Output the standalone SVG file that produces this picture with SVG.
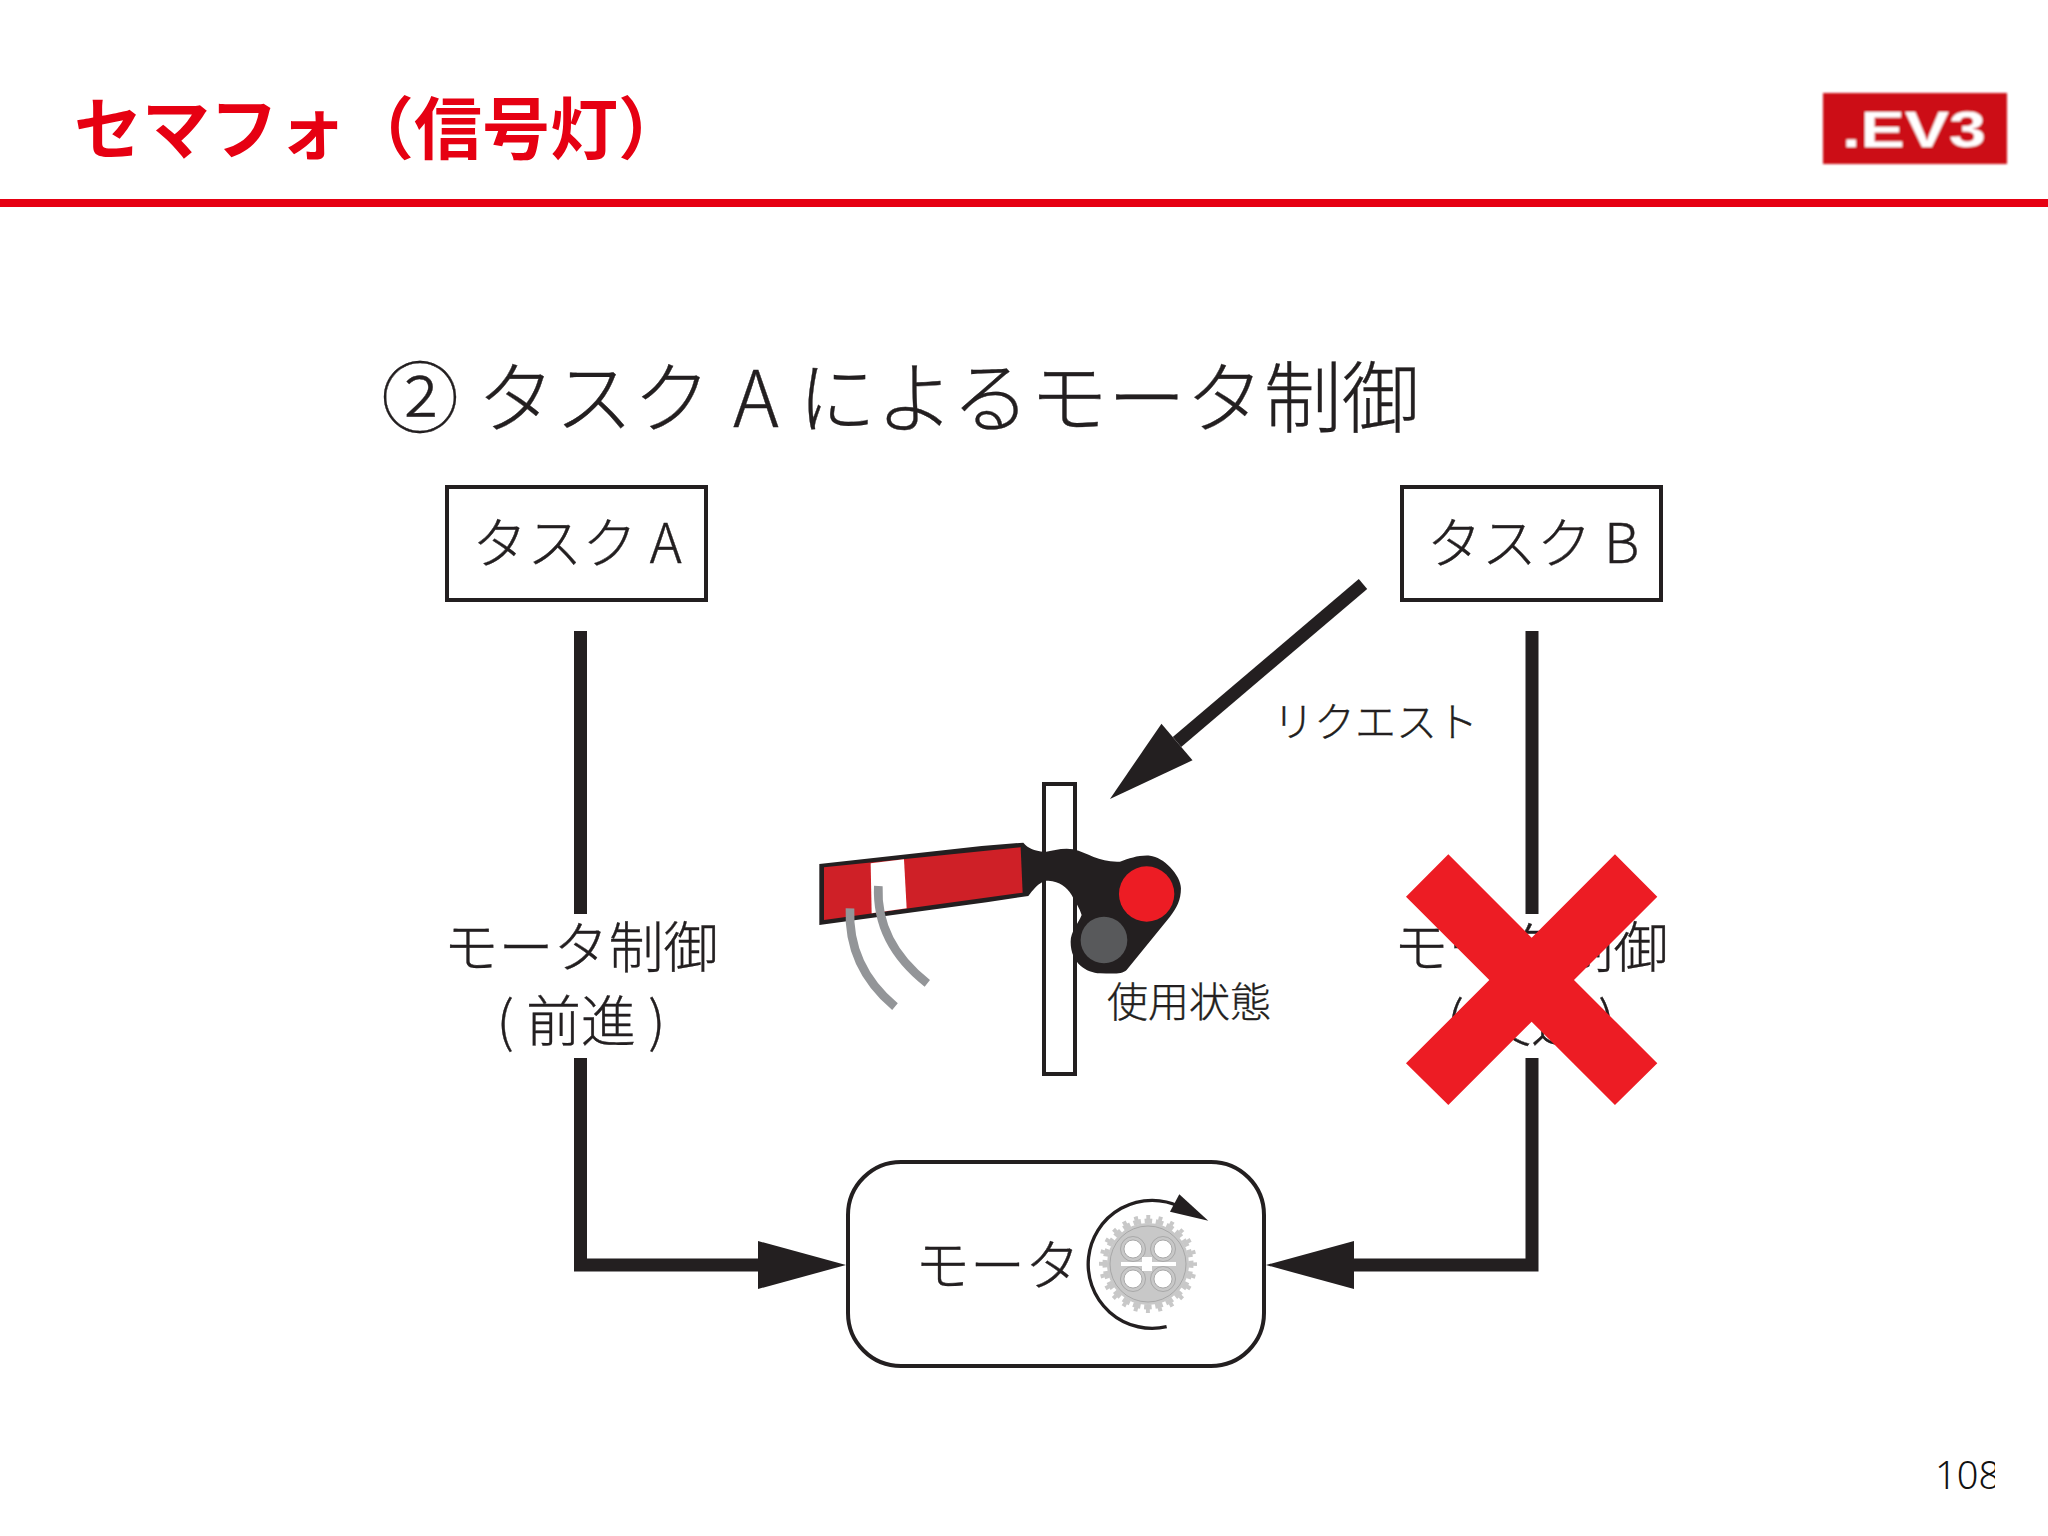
<svg xmlns="http://www.w3.org/2000/svg" width="2048" height="1536" viewBox="0 0 2048 1536">
<style>
text{font-family:"Noto Sans CJK JP","Noto Sans",sans-serif;font-weight:300;fill:#231f20;stroke:#231f20;stroke-width:.35}
.m{text-anchor:middle}
.box{fill:#fff;stroke:#231f20;stroke-width:4}
.wire{fill:none;stroke:#231f20;stroke-width:13;marker-end:url(#head)}
.plain{fill:none;stroke:#231f20;stroke-width:13}
.lbl55{font-size:55px}
.lbl41{font-size:41px}
.hole{fill:#fff;stroke:#9a9a9a;stroke-width:.8}
.ring{fill:#c8c8c8;stroke:#9a9a9a;stroke-width:.7}
</style>
<defs>
<marker id="head" markerUnits="userSpaceOnUse" markerWidth="90" markerHeight="48" refX="0" refY="24" orient="auto" overflow="visible"><path d="M0 0L88 24L0 48z" fill="#231f20"/></marker>
<clipPath id="pg"><rect x="1900" y="1440" width="95" height="70"/></clipPath>
<filter id="soft" x="-5%" y="-5%" width="110%" height="110%"><feGaussianBlur stdDeviation="0.9"/></filter>
</defs>
<rect width="2048" height="1536" fill="#fff"/>
<g id="header">
<text x="74" y="154" font-size="68" style="font-weight:700;fill:#e60012;stroke:none">セマフォ（信号灯）</text>
<rect x="0" y="199" width="2048" height="8" fill="#e60012"/>
<g filter="url(#soft)">
<rect x="1823" y="93" width="184" height="71" fill="#cc1016"/>
<text x="1842" y="147" font-size="50" textLength="144" lengthAdjust="spacingAndGlyphs" style="font-family:'Liberation Sans',sans-serif;font-weight:700;fill:#fff;stroke:none">.EV3</text>
</g>
</g>
<text id="heading" y="427" font-size="78"><tspan x="381">②</tspan><tspan x="477">タスク</tspan><tspan x="733">A</tspan><tspan x="798">によるモータ制御</tspan></text>

<g id="connectors">
<path class="plain" d="M580.5 631V914"/>
<path class="wire" d="M580.5 1058V1265H758"/>
<path class="plain" d="M1532 631V914"/>
<path class="wire" d="M1532 1058V1265H1354"/>
<path class="wire" d="M1363 584L1177 742"/>
</g>

<g id="taskA"><rect class="box" x="447" y="487" width="259" height="113"/><text class="lbl55 m" x="577" y="563">タスク A</text></g>
<g id="taskB"><rect class="box" x="1402" y="487" width="259" height="113"/><text class="lbl55 m" x="1533" y="563">タスク B</text></g>
<g id="labelA"><text class="lbl55 m" x="581" y="967">モータ制御</text><text class="lbl55 m" x="581" y="1041">( 前進 )</text></g>
<g id="labelB"><text class="lbl55 m" x="1531" y="967">モータ制御</text><text class="lbl55 m" x="1531" y="1041">( 後進 )</text></g>
<text id="request" x="1273" y="737" font-size="41">リクエスト</text>

<g id="semaphore">
<rect class="box" x="1044" y="784" width="31" height="290"/>
<g transform="translate(780 760) scale(.3333)">
<path d="M118 312L605 258L730 248C745 265 760 272 795 276C820 272 850 262 880 268C925 280 960 308 1020 305C1050 295 1075 285 1110 287C1150 290 1203 345 1203 385C1203 420 1190 445 1170 470L1040 630C1025 645 990 640 960 640C920 638 872 610 872 545C872 515 895 490 905 465C900 445 885 425 875 405C860 380 840 365 805 362C790 362 775 368 745 408L620 427L118 495z" fill="#231f20"/>
<path d="M132 322L722 262L728 398L132 480z" fill="#cf2027"/>
<path d="M272 310L372 298L380 445L275 460z" fill="#fff"/>
<path d="M210 445C205 560 250 660 345 740M295 378C290 490 340 590 442 670" fill="none" stroke="#939598" stroke-width="26"/>
<circle cx="1100" cy="402" r="83" fill="#ed1c24"/>
<circle cx="972" cy="540" r="70" fill="#58595b"/>
</g>
<text class="lbl41" x="1107" y="1017">使用状態</text>
</g>

<g id="motor">
<rect class="box" x="848" y="1162" width="416" height="204" rx="53"/>
<text class="lbl55" x="915" y="1285">モータ</text>
<g id="gear">
<circle cx="1148" cy="1264" r="41" fill="#c8c8c8"/>
<circle cx="1148" cy="1264" r="43" fill="none" stroke="#c8c8c8" stroke-width="5" stroke-dasharray="7.6 3.66" stroke-dashoffset="3.8"/>
<circle cx="1148" cy="1264" r="47" fill="none" stroke="#c8c8c8" stroke-width="4" stroke-dasharray="4 8.3" stroke-dashoffset="2"/>
<circle class="ring" cx="1148" cy="1264" r="38"/>
<circle class="ring" cx="1133" cy="1249" r="12.5"/><circle class="ring" cx="1163" cy="1249" r="12.5"/><circle class="ring" cx="1133" cy="1279" r="12.5"/><circle class="ring" cx="1163" cy="1279" r="12.5"/>
<circle class="hole" cx="1133" cy="1249" r="9"/><circle class="hole" cx="1163" cy="1249" r="9"/><circle class="hole" cx="1133" cy="1279" r="9"/><circle class="hole" cx="1163" cy="1279" r="9"/>
<path d="M1121 1262H1142V1257H1152V1262H1176V1266H1152V1271H1142V1266H1121z" fill="#fff"/>
</g>
<g transform="translate(840 1150) scale(.3333)">
<path d="M980 530A192 192 0 1 1 1020 170" fill="none" stroke="#231f20" stroke-width="10"/>
<path d="M1018 133L1105 212L990 185z" fill="#231f20"/>
</g>
</g>

<path id="cross" fill="#ed1c24" transform="translate(1380 840) scale(.3333)" d="M205 43L455 293L705 43L832 170L582 420L832 670L705 795L455 545L205 795L78 670L328 420L78 170z"/>

<text id="page" x="1935" y="1489" font-size="38" clip-path="url(#pg)" style="font-family:'Noto Sans',sans-serif;stroke:none;fill:#111">108</text>
</svg>
